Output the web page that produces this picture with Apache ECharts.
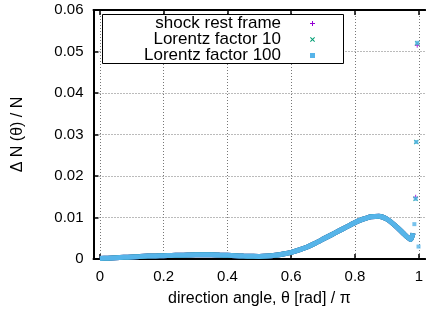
<!DOCTYPE html>
<html>
<head>
<meta charset="utf-8">
<script src="https://cdn.jsdelivr.net/npm/echarts@6/dist/echarts.min.js"></script>
<style>
  html, body { margin: 0; padding: 0; background: #fff; }
  #chart { width: 426px; height: 313px; }
</style>
</head>
<body>
<div id="chart"></div>
<script>
// direction angle theta/pi
var theta = [0, 0.025, 0.05, 0.075, 0.1, 0.125, 0.15, 0.175, 0.2, 0.225, 0.25, 0.275, 0.3, 0.325,
  0.35, 0.375, 0.4, 0.425, 0.45, 0.475, 0.5, 0.525, 0.55, 0.575, 0.6, 0.625, 0.65, 0.675, 0.7,
  0.725, 0.75, 0.775, 0.8, 0.825, 0.85, 0.875, 0.9, 0.925, 0.95, 0.965, 0.975, 0.982];
// the three curves lie on top of each other
var restCurve = [0.0001, 0.0002, 0.0003, 0.0004, 0.0005, 0.0006, 0.0007, 0.00075, 0.0008, 0.00085,
  0.0009, 0.00095, 0.001, 0.001, 0.001, 0.00095, 0.0009, 0.0008, 0.0007, 0.00065, 0.0006, 0.0007,
  0.0009, 0.0012, 0.0016, 0.0022, 0.0029, 0.0038, 0.0048, 0.0058, 0.0068, 0.0078, 0.0088, 0.0096,
  0.0102, 0.0103, 0.0096, 0.0081, 0.0063, 0.0052, 0.0047, 0.0062];
var lor10Curve = restCurve.slice();
var lor100Curve = restCurve.slice();

// loose points near theta = pi
var restEdge = [[0.995, 0.0515], [0.99, 0.0149]];
var lor10Edge = [[0.995, 0.052], [0.992, 0.0282], [0.99, 0.0145]];
var lor100Edge = [[0.995, 0.0521], [0.992, 0.0282], [0.99, 0.0145], [0.986, 0.0084], [0.999, 0.003]];

var names = ['shock rest frame', 'Lorentz factor 10', 'Lorentz factor 100'];
var colors = ['#9400d3', '#009e73', '#56b4e9'];
var xTicks = [0, 0.2, 0.4, 0.6, 0.8, 1];

var plusIcon = 'path://M2,0H3V2H5V3H3V5H2V3H0V2H2Z';
var crossIcon = 'path://M0,0.7L0.7,0L2.5,1.8L4.3,0L5,0.7L3.2,2.5L5,4.3L4.3,5L2.5,3.2L0.7,5L0,4.3L1.8,2.5Z';
var icons = [plusIcon, crossIcon, 'rect'];

function pairs(xs, ys) {
  var out = [];
  for (var i = 0; i < xs.length; i++) out.push([xs[i], ys[i]]);
  return out;
}

var font = 'Liberation Sans, Arial, sans-serif';
var gridLine = { show: true, lineStyle: { color: '#777', type: [1, 2], width: 1 } };

var chart = echarts.init(document.getElementById('chart'));

var curves = [restCurve, lor10Curve, lor100Curve];
var edges = [restEdge, lor10Edge, lor100Edge];
var series = [];
for (var k = 0; k < 3; k++) {
  series.push({
    name: names[k],
    type: 'line',
    data: pairs(theta, curves[k]),
    smooth: 0.2,
    showSymbol: false,
    symbol: 'none',
    lineStyle: { color: colors[k], width: 5 },
    itemStyle: { color: colors[k] },
    silent: true,
    z: 2 + k
  });
  series.push({
    name: names[k],
    type: 'scatter',
    data: edges[k],
    symbol: icons[k],
    symbolSize: k == 2 ? 4 : 5,
    itemStyle: { color: colors[k] },
    z: 5 + k
  });
}

var legends = [];
for (var j = 0; j < 3; j++) {
  legends.push({
    data: [{ name: names[j], icon: icons[j] }],
    right: 111,
    top: 15 + j * 16,
    padding: 0,
    align: 'right',
    itemWidth: 5,
    itemHeight: 5,
    selectedMode: false,
    z: 20,
    textStyle: { fontFamily: font, fontSize: 17, lineHeight: 16, color: '#000', padding: [0, 24, 0, 0] }
  });
}

chart.setOption({
  animation: false,
  backgroundColor: '#fff',
  grid: { left: 93.5, right: -2, top: 10, bottom: 54 },
  legend: legends,
  graphic: [{
    type: 'rect',
    shape: { x: 102.5, y: 14.5, width: 241, height: 49 },
    style: { fill: '#fff', stroke: '#000', lineWidth: 1 },
    z: 1
  }],
  xAxis: [{
    type: 'value', min: -0.02, max: 1.02,
    name: 'direction angle, θ [rad] / π',
    nameLocation: 'middle', nameGap: 32,
    nameTextStyle: { fontFamily: font, fontSize: 16, color: '#000' },
    axisLine: { show: true, onZero: false, lineStyle: { color: '#000', width: 2 } },
    axisTick: { show: true, inside: true, length: 5, customValues: xTicks, lineStyle: { color: '#000', width: 1.5 } },
    axisLabel: { customValues: xTicks, fontFamily: font, fontSize: 15, color: '#000', margin: 10 },
    splitLine: gridLine
  }, {
    type: 'value', show: true, gridIndex: 0, min: -0.02, max: 1.02, position: 'top',
    axisLine: { show: true, onZero: false, lineStyle: { color: '#000', width: 2 } },
    axisTick: { show: true, inside: true, length: 5, customValues: xTicks, lineStyle: { color: '#000', width: 1.5 } },
    axisLabel: { show: false, customValues: xTicks },
    splitLine: { show: false }
  }],
  yAxis: [{
    type: 'value', min: 0, max: 0.06, interval: 0.01,
    name: 'Δ N (θ) / N',
    nameLocation: 'middle', nameGap: 68,
    nameTextStyle: { fontFamily: font, fontSize: 16, color: '#000' },
    axisLine: { show: true, onZero: false, lineStyle: { color: '#000', width: 2 } },
    axisTick: { show: true, inside: true, length: 5, lineStyle: { color: '#000', width: 1.5 } },
    axisLabel: { fontFamily: font, fontSize: 15, color: '#000', margin: 10 },
    splitLine: gridLine
  }, {
    type: 'value', min: 0, max: 0.06, interval: 0.01, position: 'right',
    axisLine: { show: false },
    axisTick: { show: false },
    axisLabel: { show: false },
    splitLine: { show: false }
  }],
  series: series
});
</script>
</body>
</html>
